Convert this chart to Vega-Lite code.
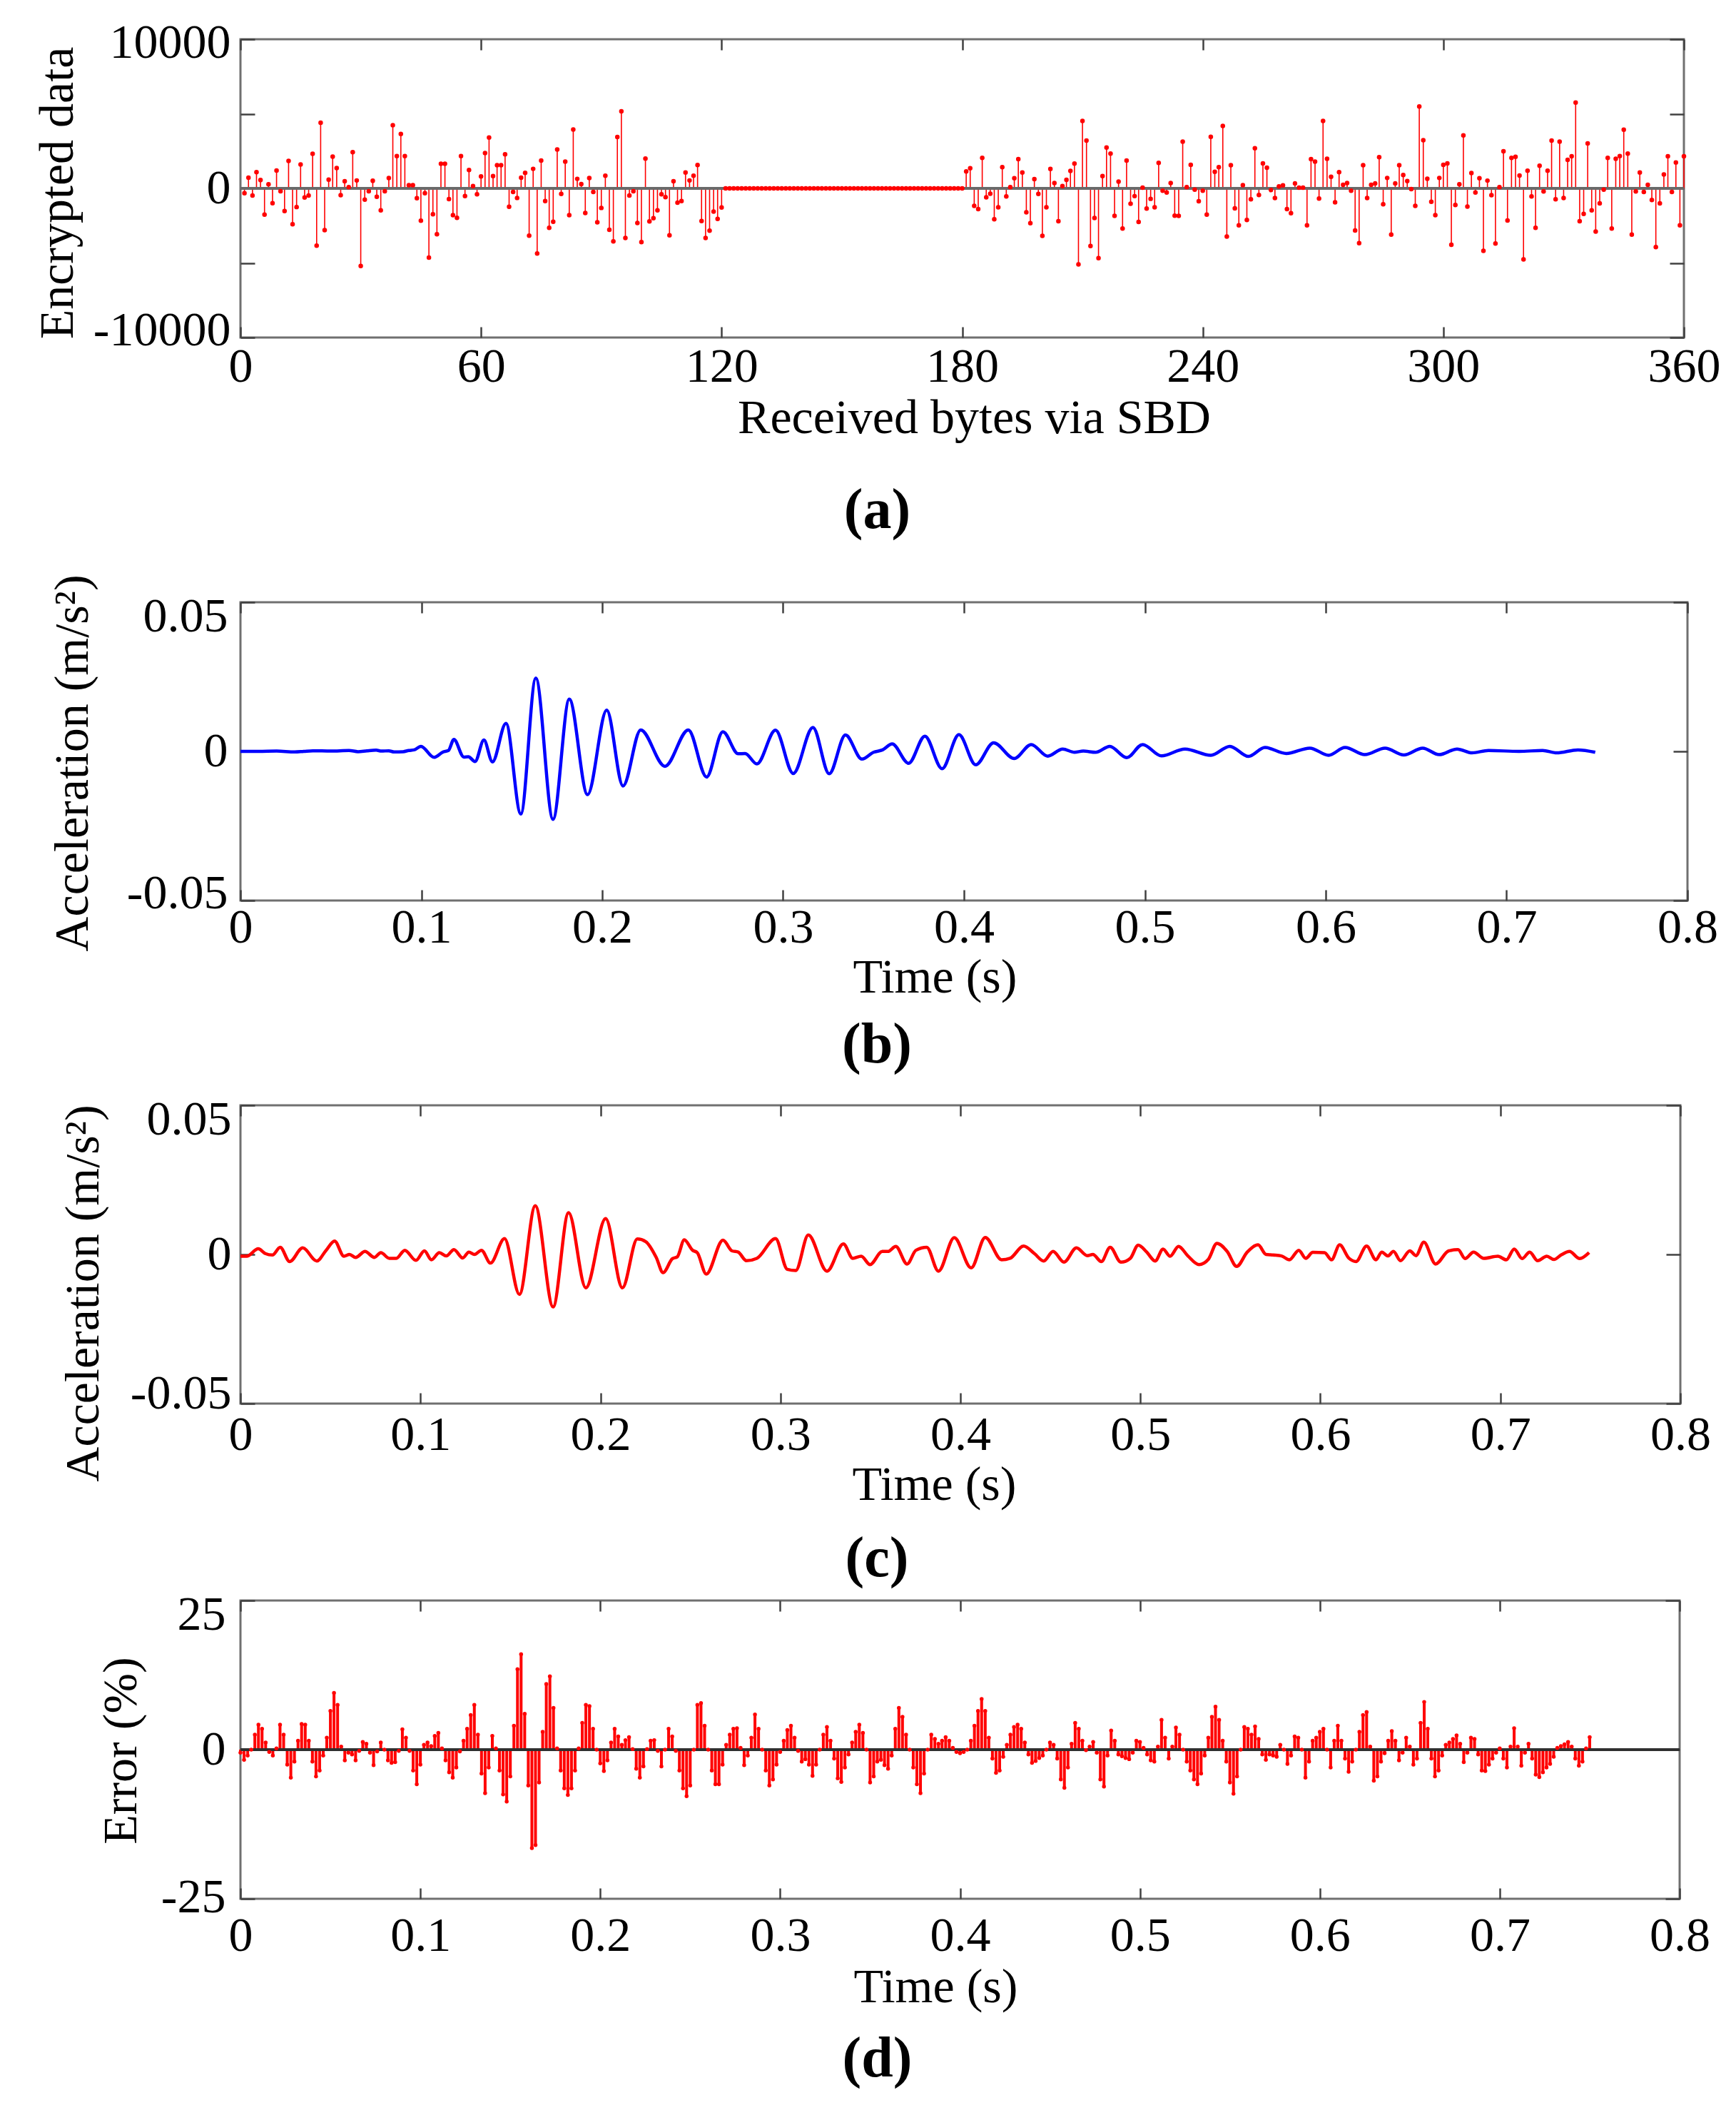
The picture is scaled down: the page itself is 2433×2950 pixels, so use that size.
{
"$schema": "https://vega.github.io/schema/vega-lite/v6.json",
"background": "white",
"padding": {"left": 45, "top": 24, "right": 10, "bottom": 10},
"spacing": 0,
"config": {
  "font": "Liberation Serif",
  "view": {"stroke": "#707070", "strokeWidth": 3},
  "axis": {"minExtent": 0, "grid": false, "domain": false, "ticks": true, "tickColor": "#404040", "tickWidth": 2.5, "labelFontSize": 68, "titleFontSize": 68, "labelColor": "black", "titleColor": "black", "titleFontWeight": "normal", "labelFont": "Liberation Serif", "titleFont": "Liberation Serif", "labelOverlap": false, "labelFlush": false, "labelBound": false, "labelLimit": 1000},
  "title": {"font": "Liberation Serif"}
},
"datasets": {
"A": [{"i":1,"v":-320},{"i":2,"v":720},{"i":3,"v":-480},{"i":4,"v":1090},{"i":5,"v":560},{"i":6,"v":-1760},{"i":7,"v":270},{"i":8,"v":-990},{"i":9,"v":1200},{"i":10,"v":-190},
{"i":11,"v":-1520},{"i":12,"v":1840},{"i":13,"v":-2400},{"i":14,"v":-1250},{"i":15,"v":1600},{"i":16,"v":-610},{"i":17,"v":-480},{"i":18,"v":2320},{"i":19,"v":-3840},{"i":20,"v":4400},
{"i":21,"v":-2800},{"i":22,"v":590},{"i":23,"v":2130},{"i":24,"v":1360},{"i":25,"v":-450},{"i":26,"v":480},{"i":27,"v":80},{"i":28,"v":2430},{"i":29,"v":530},{"i":30,"v":-5200},
{"i":31,"v":-750},{"i":32,"v":-190},{"i":33,"v":510},{"i":34,"v":-560},{"i":35,"v":-1470},{"i":36,"v":-190},{"i":37,"v":690},{"i":38,"v":4240},{"i":39,"v":2160},{"i":40,"v":3650},
{"i":41,"v":2160},{"i":42,"v":210},{"i":43,"v":210},{"i":44,"v":-660},{"i":45,"v":-2160},{"i":46,"v":-320},{"i":47,"v":-4640},{"i":48,"v":-1730},{"i":49,"v":-3070},{"i":50,"v":1650},
{"i":51,"v":1650},{"i":52,"v":-720},{"i":53,"v":-1790},{"i":54,"v":-1970},{"i":55,"v":2160},{"i":56,"v":-510},{"i":57,"v":1230},{"i":58,"v":160},{"i":59,"v":-400},{"i":60,"v":800},
{"i":61,"v":2370},{"i":62,"v":3410},{"i":63,"v":830},{"i":64,"v":1550},{"i":65,"v":1550},{"i":66,"v":2290},{"i":67,"v":-1230},{"i":68,"v":-240},{"i":69,"v":-640},{"i":70,"v":720},
{"i":71,"v":1040},{"i":72,"v":-3170},{"i":73,"v":1310},{"i":74,"v":-4370},{"i":75,"v":1870},{"i":76,"v":-850},{"i":77,"v":-2640},{"i":78,"v":-2240},{"i":79,"v":2610},{"i":80,"v":-370},
{"i":81,"v":1790},{"i":82,"v":-1790},{"i":83,"v":3950},{"i":84,"v":640},{"i":85,"v":290},{"i":86,"v":-1650},{"i":87,"v":690},{"i":88,"v":-240},{"i":89,"v":-2270},{"i":90,"v":-1310},
{"i":91,"v":850},{"i":92,"v":-2770},{"i":93,"v":-3550},{"i":94,"v":3440},{"i":95,"v":5170},{"i":96,"v":-3330},{"i":97,"v":-480},{"i":98,"v":-190},{"i":99,"v":-2320},{"i":100,"v":-3600},
{"i":101,"v":2000},{"i":102,"v":-2210},{"i":103,"v":-2000},{"i":104,"v":-1470},{"i":105,"v":-400},{"i":106,"v":-590},{"i":107,"v":-3150},{"i":108,"v":480},{"i":109,"v":-960},{"i":110,"v":-850},
{"i":111,"v":1070},{"i":112,"v":530},{"i":113,"v":850},{"i":114,"v":1570},{"i":115,"v":-2190},{"i":116,"v":-3330},{"i":117,"v":-2830},{"i":118,"v":-1550},{"i":119,"v":-2050},{"i":120,"v":-1280},
{"i":121,"v":0},{"i":122,"v":0},{"i":123,"v":0},{"i":124,"v":0},{"i":125,"v":0},{"i":126,"v":0},{"i":127,"v":0},{"i":128,"v":0},{"i":129,"v":0},{"i":130,"v":0},
{"i":131,"v":0},{"i":132,"v":0},{"i":133,"v":0},{"i":134,"v":0},{"i":135,"v":0},{"i":136,"v":0},{"i":137,"v":0},{"i":138,"v":0},{"i":139,"v":0},{"i":140,"v":0},
{"i":141,"v":0},{"i":142,"v":0},{"i":143,"v":0},{"i":144,"v":0},{"i":145,"v":0},{"i":146,"v":0},{"i":147,"v":0},{"i":148,"v":0},{"i":149,"v":0},{"i":150,"v":0},
{"i":151,"v":0},{"i":152,"v":0},{"i":153,"v":0},{"i":154,"v":0},{"i":155,"v":0},{"i":156,"v":0},{"i":157,"v":0},{"i":158,"v":0},{"i":159,"v":0},{"i":160,"v":0},
{"i":161,"v":0},{"i":162,"v":0},{"i":163,"v":0},{"i":164,"v":0},{"i":165,"v":0},{"i":166,"v":0},{"i":167,"v":0},{"i":168,"v":0},{"i":169,"v":0},{"i":170,"v":0},
{"i":171,"v":0},{"i":172,"v":0},{"i":173,"v":0},{"i":174,"v":0},{"i":175,"v":0},{"i":176,"v":0},{"i":177,"v":0},{"i":178,"v":0},{"i":179,"v":0},{"i":180,"v":0},
{"i":181,"v":1140},{"i":182,"v":1350},{"i":183,"v":-1170},{"i":184,"v":-1390},{"i":185,"v":2040},{"i":186,"v":-600},{"i":187,"v":-360},{"i":188,"v":-2070},{"i":189,"v":-1270},{"i":190,"v":1420},
{"i":191,"v":-540},{"i":192,"v":80},{"i":193,"v":680},{"i":194,"v":1960},{"i":195,"v":1060},{"i":196,"v":-1600},{"i":197,"v":-2330},{"i":198,"v":620},{"i":199,"v":-370},{"i":200,"v":-3180},
{"i":201,"v":-1270},{"i":202,"v":1300},{"i":203,"v":360},{"i":204,"v":-2200},{"i":205,"v":160},{"i":206,"v":570},{"i":207,"v":1170},{"i":208,"v":1660},{"i":209,"v":-5100},{"i":210,"v":4520},
{"i":211,"v":3210},{"i":212,"v":-3860},{"i":213,"v":-1990},{"i":214,"v":-4680},{"i":215,"v":820},{"i":216,"v":2740},{"i":217,"v":2330},{"i":218,"v":-1840},{"i":219,"v":460},{"i":220,"v":-2690},
{"i":221,"v":1870},{"i":222,"v":-1030},{"i":223,"v":-520},{"i":224,"v":-2250},{"i":225,"v":50},{"i":226,"v":-1350},{"i":227,"v":-700},{"i":228,"v":-1270},{"i":229,"v":1710},{"i":230,"v":-160},
{"i":231,"v":-280},{"i":232,"v":360},{"i":233,"v":-1830},{"i":234,"v":-1840},{"i":235,"v":3130},{"i":236,"v":80},{"i":237,"v":1580},{"i":238,"v":-80},{"i":239,"v":-860},{"i":240,"v":-160},
{"i":241,"v":-1760},{"i":242,"v":3460},{"i":243,"v":1110},{"i":244,"v":1420},{"i":245,"v":4190},{"i":246,"v":-3230},{"i":247,"v":1550},{"i":248,"v":-1340},{"i":249,"v":-2480},{"i":250,"v":210},
{"i":251,"v":-2120},{"i":252,"v":-730},{"i":253,"v":2690},{"i":254,"v":-440},{"i":255,"v":1680},{"i":256,"v":1390},{"i":257,"v":-110},{"i":258,"v":-650},{"i":259,"v":130},{"i":260,"v":200},
{"i":261,"v":-1390},{"i":262,"v":-1660},{"i":263,"v":330},{"i":264,"v":50},{"i":265,"v":50},{"i":266,"v":-2480},{"i":267,"v":1960},{"i":268,"v":1790},{"i":269,"v":-680},{"i":270,"v":4520},
{"i":271,"v":1990},{"i":272,"v":780},{"i":273,"v":-930},{"i":274,"v":1090},{"i":275,"v":240},{"i":276,"v":360},{"i":277,"v":-160},{"i":278,"v":-2820},{"i":279,"v":-3670},{"i":280,"v":1550},
{"i":281,"v":-650},{"i":282,"v":240},{"i":283,"v":330},{"i":284,"v":2090},{"i":285,"v":-1060},{"i":286,"v":700},{"i":287,"v":-3100},{"i":288,"v":330},{"i":289,"v":1550},{"i":290,"v":900},
{"i":291,"v":490},{"i":292,"v":-50},{"i":293,"v":-1170},{"i":294,"v":5490},{"i":295,"v":3230},{"i":296,"v":650},{"i":297,"v":-900},{"i":298,"v":-1790},{"i":299,"v":700},{"i":300,"v":1580},
{"i":301,"v":1680},{"i":302,"v":-3780},{"i":303,"v":-1110},{"i":304,"v":280},{"i":305,"v":3550},{"i":306,"v":-1220},{"i":307,"v":1030},{"i":308,"v":-280},{"i":309,"v":680},{"i":310,"v":-4190},
{"i":311,"v":520},{"i":312,"v":-460},{"i":313,"v":-3700},{"i":314,"v":80},{"i":315,"v":2490},{"i":316,"v":-2150},{"i":317,"v":2040},{"i":318,"v":2120},{"i":319,"v":860},{"i":320,"v":-4760},
{"i":321,"v":1190},{"i":322,"v":-540},{"i":323,"v":-2640},{"i":324,"v":1520},{"i":325,"v":-200},{"i":326,"v":1190},{"i":327,"v":3210},{"i":328,"v":-730},{"i":329,"v":3130},{"i":330,"v":-650},
{"i":331,"v":1910},{"i":332,"v":2150},{"i":333,"v":5750},{"i":334,"v":-2200},{"i":335,"v":-1710},{"i":336,"v":3020},{"i":337,"v":-1470},{"i":338,"v":-2890},{"i":339,"v":-1010},{"i":340,"v":-80},
{"i":341,"v":2040},{"i":342,"v":-2690},{"i":343,"v":1990},{"i":344,"v":2170},{"i":345,"v":3940},{"i":346,"v":2330},{"i":347,"v":-3100},{"i":348,"v":-200},{"i":349,"v":1060},{"i":350,"v":-240},
{"i":351,"v":240},{"i":352,"v":-780},{"i":353,"v":-3940},{"i":354,"v":-1010},{"i":355,"v":930},{"i":356,"v":2150},{"i":357,"v":-240},{"i":358,"v":1740},{"i":359,"v":-2480},{"i":360,"v":2150}],
"B": [{"t":0,"a":0},{"t":0.01,"a":0},{"t":0.02,"a":0.0001},{"t":0.03,"a":-0.0002},{"t":0.035,"a":0},{"t":0.04,"a":0.0002},{"t":0.05,"a":0.0001},{"t":0.06,"a":0.0003},{"t":0.065,"a":-0.0001},{"t":0.07,"a":0.0002},{"t":0.075,"a":0.0004},{"t":0.078,"a":0.0001},{"t":0.082,"a":0.0002},{"t":0.085,"a":-0.0002},{"t":0.09,"a":-0.0001},{"t":0.093,"a":0.0003},{"t":0.096,"a":0.0005},{"t":0.0998,"a":0.0017},{"t":0.107,"a":-0.002},{"t":0.112,"a":-0.0002},{"t":0.115,"a":0.0003},{"t":0.118,"a":0.004},{"t":0.1235,"a":-0.0019},{"t":0.126,"a":-0.0018},{"t":0.1297,"a":-0.0034},{"t":0.1346,"a":0.0038},{"t":0.1393,"a":-0.0035},{"t":0.1468,"a":0.0094},{"t":0.155,"a":-0.021},{"t":0.1633,"a":0.0246},{"t":0.1728,"a":-0.0228},{"t":0.1818,"a":0.0175},{"t":0.1919,"a":-0.0145},{"t":0.2025,"a":0.0138},{"t":0.2115,"a":-0.0116},{"t":0.2213,"a":0.0072},{"t":0.2347,"a":-0.005},{"t":0.2476,"a":0.0072},{"t":0.2577,"a":-0.0086},{"t":0.2667,"a":0.0066},{"t":0.2752,"a":-0.0008},{"t":0.279,"a":-0.0007},{"t":0.2855,"a":-0.0042},{"t":0.2958,"a":0.0071},{"t":0.3056,"a":-0.0074},{"t":0.3165,"a":0.008},{"t":0.3255,"a":-0.0075},{"t":0.3345,"a":0.0055},{"t":0.3436,"a":-0.0026},{"t":0.35,"a":-0.0003},{"t":0.355,"a":0.0005},{"t":0.3603,"a":0.0025},{"t":0.3694,"a":-0.004},{"t":0.3784,"a":0.0051},{"t":0.3879,"a":-0.0058},{"t":0.3972,"a":0.0056},{"t":0.4065,"a":-0.0045},{"t":0.4164,"a":0.0029},{"t":0.4278,"a":-0.0024},{"t":0.4372,"a":0.0023},{"t":0.4463,"a":-0.0016},{"t":0.4546,"a":0.0008},{"t":0.4611,"a":-0.0003},{"t":0.466,"a":0.0001},{"t":0.4728,"a":-0.0003},{"t":0.4806,"a":0.0017},{"t":0.49,"a":-0.0021},{"t":0.4988,"a":0.0023},{"t":0.5092,"a":-0.0015},{"t":0.5222,"a":0.0008},{"t":0.5365,"a":-0.0013},{"t":0.547,"a":0.0017},{"t":0.5573,"a":-0.0017},{"t":0.5664,"a":0.0013},{"t":0.5782,"a":-0.0007},{"t":0.5912,"a":0.0011},{"t":0.6016,"a":-0.0013},{"t":0.6107,"a":0.0013},{"t":0.6216,"a":-0.0011},{"t":0.6328,"a":0.0011},{"t":0.6432,"a":-0.0012},{"t":0.6536,"a":0.0011},{"t":0.6627,"a":-0.0011},{"t":0.6726,"a":0.0008},{"t":0.6809,"a":-0.0005},{"t":0.69,"a":0.0003},{"t":0.7069,"a":0},{"t":0.7199,"a":0.0003},{"t":0.7277,"a":-0.0005},{"t":0.7394,"a":0.0005},{"t":0.749,"a":-0.0003}],
"C": [{"t":0,"a":-0.0006},{"t":0.0034,"a":-0.0006},{"t":0.0099,"a":0.0019},{"t":0.0138,"a":0.0003},{"t":0.0177,"a":-0.0002},{"t":0.0221,"a":0.0024},{"t":0.0273,"a":-0.0024},{"t":0.0346,"a":0.0022},{"t":0.0424,"a":-0.0022},{"t":0.0476,"a":0.0014},{"t":0.0523,"a":0.0045},{"t":0.0575,"a":-0.0006},{"t":0.0606,"a":0},{"t":0.064,"a":-0.001},{"t":0.0692,"a":0.001},{"t":0.0744,"a":-0.001},{"t":0.078,"a":0.0006},{"t":0.0827,"a":-0.0013},{"t":0.0866,"a":-0.0013},{"t":0.0913,"a":0.0014},{"t":0.0975,"a":-0.002},{"t":0.1022,"a":0.0012},{"t":0.1061,"a":-0.0018},{"t":0.1105,"a":0.0006},{"t":0.1144,"a":-0.0005},{"t":0.1186,"a":0.0016},{"t":0.1235,"a":-0.0012},{"t":0.1269,"a":0.0008},{"t":0.13,"a":0},{"t":0.1339,"a":0.0014},{"t":0.1389,"a":-0.0029},{"t":0.1467,"a":0.0053},{"t":0.155,"a":-0.0134},{"t":0.1638,"a":0.0163},{"t":0.1737,"a":-0.0176},{"t":0.1823,"a":0.014},{"t":0.1919,"a":-0.0112},{"t":0.2029,"a":0.012},{"t":0.2122,"a":-0.0112},{"t":0.2205,"a":0.0052},{"t":0.2252,"a":0.0043},{"t":0.231,"a":-0.001},{"t":0.2348,"a":-0.0061},{"t":0.24,"a":-0.0014},{"t":0.2427,"a":-0.0008},{"t":0.2466,"a":0.0049},{"t":0.2512,"a":0.0014},{"t":0.2538,"a":0.0006},{"t":0.2588,"a":-0.0066},{"t":0.2681,"a":0.0048},{"t":0.2731,"a":0.0012},{"t":0.2765,"a":0.0008},{"t":0.2811,"a":-0.0021},{"t":0.2869,"a":-0.0013},{"t":0.2973,"a":0.0053},{"t":0.3038,"a":-0.005},{"t":0.3085,"a":-0.0054},{"t":0.3155,"a":0.0065},{"t":0.3259,"a":-0.0056},{"t":0.335,"a":0.0035},{"t":0.3402,"a":-0.0013},{"t":0.3449,"a":-0.0006},{"t":0.3498,"a":-0.0034},{"t":0.3566,"a":0.001},{"t":0.3597,"a":0.001},{"t":0.3641,"a":0.0027},{"t":0.3704,"a":-0.0032},{"t":0.3753,"a":0.0014},{"t":0.3813,"a":0.0024},{"t":0.3878,"a":-0.0056},{"t":0.3966,"a":0.0056},{"t":0.406,"a":-0.0045},{"t":0.4138,"a":0.0057},{"t":0.4229,"a":-0.0018},{"t":0.4276,"a":-0.0013},{"t":0.4351,"a":0.0028},{"t":0.4411,"a":0.0003},{"t":0.4463,"a":-0.0022},{"t":0.4515,"a":0.001},{"t":0.4575,"a":-0.0026},{"t":0.4645,"a":0.0022},{"t":0.4705,"a":-0.0004},{"t":0.4736,"a":0},{"t":0.4783,"a":-0.0024},{"t":0.4832,"a":0.0024},{"t":0.4892,"a":-0.0026},{"t":0.4944,"a":-0.0013},{"t":0.4988,"a":0.0031},{"t":0.5035,"a":0.0008},{"t":0.5082,"a":-0.0022},{"t":0.5126,"a":0.0018},{"t":0.5165,"a":-0.0006},{"t":0.5212,"a":0.0027},{"t":0.5264,"a":-0.0005},{"t":0.5326,"a":-0.0034},{"t":0.5378,"a":-0.0016},{"t":0.5425,"a":0.0037},{"t":0.5482,"a":0.001},{"t":0.5535,"a":-0.004},{"t":0.5594,"a":0.0008},{"t":0.5654,"a":0.0032},{"t":0.5698,"a":0},{"t":0.5737,"a":-0.0002},{"t":0.5784,"a":-0.0005},{"t":0.5828,"a":-0.0018},{"t":0.588,"a":0.0014},{"t":0.5919,"a":-0.0013},{"t":0.5958,"a":0.0007},{"t":0.6023,"a":0.0006},{"t":0.6062,"a":-0.0018},{"t":0.6107,"a":0.0032},{"t":0.6159,"a":-0.0013},{"t":0.6198,"a":-0.0024},{"t":0.6257,"a":0.0028},{"t":0.6309,"a":-0.0018},{"t":0.6341,"a":0.0008},{"t":0.6375,"a":-0.0005},{"t":0.6406,"a":0.001},{"t":0.6445,"a":-0.0021},{"t":0.6497,"a":0.0012},{"t":0.6531,"a":-0.0004},{"t":0.6575,"a":0.0041},{"t":0.664,"a":-0.0032},{"t":0.6713,"a":0.0012},{"t":0.6765,"a":0.0016},{"t":0.6804,"a":-0.0014},{"t":0.6851,"a":0.0008},{"t":0.6908,"a":-0.0013},{"t":0.6986,"a":-0.0006},{"t":0.7033,"a":-0.0018},{"t":0.7077,"a":0.0018},{"t":0.7121,"a":-0.0014},{"t":0.7163,"a":0.0008},{"t":0.7207,"a":-0.0021},{"t":0.7258,"a":-0.0006},{"t":0.7298,"a":-0.0017},{"t":0.7337,"a":-0.0002},{"t":0.7384,"a":0.001},{"t":0.7441,"a":-0.0014},{"t":0.7493,"a":0.0006}],
"D": [{"t":0,"e":-0.5},{"t":0.002,"e":-1.7},{"t":0.004,"e":-1},{"t":0.006,"e":0},{"t":0.008,"e":2.5},{"t":0.01,"e":4.2},{"t":0.012,"e":3.5},{"t":0.014,"e":1.2},{"t":0.016,"e":-0.4},{"t":0.018,"e":-1},
{"t":0.02,"e":0.2},{"t":0.022,"e":4.2},{"t":0.024,"e":2.5},{"t":0.026,"e":-2.5},{"t":0.028,"e":-4.7},{"t":0.03,"e":-2},{"t":0.032,"e":1.5},{"t":0.034,"e":4.3},{"t":0.036,"e":4.2},{"t":0.038,"e":1.5},
{"t":0.04,"e":-2},{"t":0.042,"e":-4.5},{"t":0.044,"e":-3.5},{"t":0.046,"e":-1},{"t":0.048,"e":2},{"t":0.05,"e":6.5},{"t":0.052,"e":9.5},{"t":0.054,"e":7.5},{"t":0.056,"e":0.5},{"t":0.058,"e":-1.8},
{"t":0.06,"e":-0.5},{"t":0.062,"e":-0.8},{"t":0.064,"e":-1.8},{"t":0.066,"e":-0.2},{"t":0.068,"e":1.3},{"t":0.07,"e":1},{"t":0.072,"e":-0.5},{"t":0.074,"e":-2.6},{"t":0.076,"e":-0.3},{"t":0.078,"e":1.2},
{"t":0.08,"e":0},{"t":0.082,"e":-1.8},{"t":0.084,"e":-2.2},{"t":0.086,"e":-2.1},{"t":0.088,"e":-0.2},{"t":0.09,"e":3.4},{"t":0.092,"e":2},{"t":0.094,"e":-0.2},{"t":0.096,"e":-3.5},{"t":0.098,"e":-5.8},
{"t":0.1,"e":-2.5},{"t":0.102,"e":0.8},{"t":0.104,"e":1.2},{"t":0.106,"e":0.6},{"t":0.108,"e":2.3},{"t":0.11,"e":2.8},{"t":0.112,"e":0.2},{"t":0.114,"e":-1.8},{"t":0.116,"e":-3.8},{"t":0.118,"e":-4.7},
{"t":0.12,"e":-3},{"t":0.122,"e":-0.3},{"t":0.124,"e":1.5},{"t":0.126,"e":3.5},{"t":0.128,"e":5.8},{"t":0.13,"e":7.5},{"t":0.132,"e":2.5},{"t":0.134,"e":-4},{"t":0.136,"e":-7.3},{"t":0.138,"e":-3},
{"t":0.14,"e":2.3},{"t":0.142,"e":0.2},{"t":0.144,"e":-3.5},{"t":0.146,"e":-7.5},{"t":0.148,"e":-8.7},{"t":0.15,"e":-4.5},{"t":0.152,"e":4},{"t":0.154,"e":13.5},{"t":0.156,"e":16},{"t":0.158,"e":6},
{"t":0.16,"e":-6},{"t":0.162,"e":-16.5},{"t":0.164,"e":-16},{"t":0.166,"e":-5.5},{"t":0.168,"e":3},{"t":0.17,"e":11},{"t":0.172,"e":12.3},{"t":0.174,"e":7},{"t":0.176,"e":0.2},{"t":0.178,"e":-3.5},
{"t":0.18,"e":-6.5},{"t":0.182,"e":-7.6},{"t":0.184,"e":-6.5},{"t":0.186,"e":-3.5},{"t":0.188,"e":0.2},{"t":0.19,"e":4.5},{"t":0.192,"e":7.5},{"t":0.194,"e":7.3},{"t":0.196,"e":3.5},{"t":0.198,"e":0},
{"t":0.2,"e":-2.3},{"t":0.202,"e":-3.6},{"t":0.204,"e":-1.8},{"t":0.206,"e":1.2},{"t":0.208,"e":3.5},{"t":0.21,"e":2.2},{"t":0.212,"e":0.8},{"t":0.214,"e":1.6},{"t":0.216,"e":2.1},{"t":0.218,"e":0.1},
{"t":0.22,"e":-3.2},{"t":0.222,"e":-4.7},{"t":0.224,"e":-2.8},{"t":0.226,"e":0.1},{"t":0.228,"e":1.5},{"t":0.23,"e":1.6},{"t":0.232,"e":-0.2},{"t":0.234,"e":-2.8},{"t":0.236,"e":0},{"t":0.238,"e":3.5},
{"t":0.24,"e":2.2},{"t":0.242,"e":-0.2},{"t":0.244,"e":-3.5},{"t":0.246,"e":-6.5},{"t":0.248,"e":-7.8},{"t":0.25,"e":-6},{"t":0.252,"e":0},{"t":0.254,"e":7.5},{"t":0.256,"e":7.8},{"t":0.258,"e":4},
{"t":0.26,"e":0},{"t":0.262,"e":-3.5},{"t":0.264,"e":-5.8},{"t":0.266,"e":-5.8},{"t":0.268,"e":-2.5},{"t":0.27,"e":0.8},{"t":0.272,"e":2.5},{"t":0.274,"e":3.5},{"t":0.276,"e":3.6},{"t":0.278,"e":0.3},
{"t":0.28,"e":-2.6},{"t":0.282,"e":-1},{"t":0.284,"e":2},{"t":0.286,"e":5.9},{"t":0.288,"e":3.5},{"t":0.29,"e":0},{"t":0.292,"e":-3.5},{"t":0.294,"e":-6},{"t":0.296,"e":-5},{"t":0.298,"e":-2.5},
{"t":0.3,"e":-0.4},{"t":0.302,"e":1.5},{"t":0.304,"e":3.3},{"t":0.306,"e":4},{"t":0.308,"e":2},{"t":0.31,"e":-0.2},{"t":0.312,"e":-2},{"t":0.314,"e":-1.6},{"t":0.316,"e":-2.5},{"t":0.318,"e":-4.4},
{"t":0.32,"e":-2.5},{"t":0.322,"e":0},{"t":0.324,"e":2.5},{"t":0.326,"e":3.8},{"t":0.328,"e":1.5},{"t":0.33,"e":-1.5},{"t":0.332,"e":-4.8},{"t":0.334,"e":-5.4},{"t":0.336,"e":-3},{"t":0.338,"e":-0.8},
{"t":0.34,"e":1.2},{"t":0.342,"e":3},{"t":0.344,"e":4.2},{"t":0.346,"e":2.8},{"t":0.348,"e":0},{"t":0.35,"e":-5.5},{"t":0.352,"e":-4.5},{"t":0.354,"e":-2},{"t":0.356,"e":-1.7},{"t":0.358,"e":-2.6},
{"t":0.36,"e":-3.2},{"t":0.362,"e":-1},{"t":0.364,"e":3.5},{"t":0.366,"e":7},{"t":0.368,"e":5.5},{"t":0.37,"e":2.5},{"t":0.372,"e":0},{"t":0.374,"e":-3},{"t":0.376,"e":-5.8},{"t":0.378,"e":-7.3},
{"t":0.38,"e":-4},{"t":0.382,"e":0},{"t":0.384,"e":2.5},{"t":0.386,"e":1.8},{"t":0.388,"e":1},{"t":0.39,"e":1.5},{"t":0.392,"e":2.1},{"t":0.394,"e":1.5},{"t":0.396,"e":0.3},{"t":0.398,"e":-0.4},
{"t":0.4,"e":-0.6},{"t":0.402,"e":-0.4},{"t":0.404,"e":0},{"t":0.406,"e":1.5},{"t":0.408,"e":4},{"t":0.41,"e":6.5},{"t":0.412,"e":8.5},{"t":0.414,"e":6.5},{"t":0.416,"e":2},{"t":0.418,"e":-1.5},
{"t":0.42,"e":-3.9},{"t":0.422,"e":-3.5},{"t":0.424,"e":-1.2},{"t":0.426,"e":0.8},{"t":0.428,"e":2.5},{"t":0.43,"e":3.8},{"t":0.432,"e":4.2},{"t":0.434,"e":3.5},{"t":0.436,"e":1.2},{"t":0.438,"e":-0.8},
{"t":0.44,"e":-2.2},{"t":0.442,"e":-1.9},{"t":0.444,"e":-1.4},{"t":0.446,"e":-1},{"t":0.448,"e":0},{"t":0.45,"e":1.2},{"t":0.452,"e":0.8},{"t":0.454,"e":-1.5},{"t":0.456,"e":-5},{"t":0.458,"e":-6.4},
{"t":0.46,"e":-3},{"t":0.462,"e":1},{"t":0.464,"e":4.5},{"t":0.466,"e":3.5},{"t":0.468,"e":1.5},{"t":0.47,"e":-0.1},{"t":0.472,"e":0.5},{"t":0.474,"e":1.3},{"t":0.476,"e":-0.5},{"t":0.478,"e":-5},
{"t":0.48,"e":-6.2},{"t":0.482,"e":-1},{"t":0.484,"e":3.2},{"t":0.486,"e":1.5},{"t":0.488,"e":-0.8},{"t":0.49,"e":-1.1},{"t":0.492,"e":-1.4},{"t":0.494,"e":-1.6},{"t":0.496,"e":-0.5},{"t":0.498,"e":1.5},
{"t":0.5,"e":1.3},{"t":0.502,"e":0.3},{"t":0.504,"e":-0.8},{"t":0.506,"e":-1.8},{"t":0.508,"e":-2},{"t":0.51,"e":0.5},{"t":0.512,"e":5},{"t":0.514,"e":2},{"t":0.516,"e":-1.5},{"t":0.518,"e":0.5},
{"t":0.52,"e":3.7},{"t":0.522,"e":2.5},{"t":0.524,"e":0},{"t":0.526,"e":-2},{"t":0.528,"e":-3.5},{"t":0.53,"e":-5},{"t":0.532,"e":-5.8},{"t":0.534,"e":-4},{"t":0.536,"e":-1},{"t":0.538,"e":2},
{"t":0.54,"e":5.5},{"t":0.542,"e":7.2},{"t":0.544,"e":5},{"t":0.546,"e":1.5},{"t":0.548,"e":-2},{"t":0.55,"e":-5.5},{"t":0.552,"e":-7.4},{"t":0.554,"e":-4.5},{"t":0.556,"e":0},{"t":0.558,"e":3.8},
{"t":0.56,"e":3.5},{"t":0.562,"e":2.5},{"t":0.564,"e":3.9},{"t":0.566,"e":1.8},{"t":0.568,"e":-0.8},{"t":0.57,"e":-1.7},{"t":0.572,"e":-0.8},{"t":0.574,"e":-1},{"t":0.576,"e":-1.2},{"t":0.578,"e":0.8},
{"t":0.58,"e":0},{"t":0.582,"e":-2.4},{"t":0.584,"e":-1},{"t":0.586,"e":2.2},{"t":0.588,"e":2},{"t":0.59,"e":0},{"t":0.592,"e":-4.7},{"t":0.594,"e":-2},{"t":0.596,"e":1.5},{"t":0.598,"e":2},
{"t":0.6,"e":3},{"t":0.602,"e":3.5},{"t":0.604,"e":0},{"t":0.606,"e":-3},{"t":0.608,"e":1.5},{"t":0.61,"e":4},{"t":0.612,"e":1.5},{"t":0.614,"e":-1.5},{"t":0.616,"e":-3.7},{"t":0.618,"e":-2},
{"t":0.62,"e":0},{"t":0.622,"e":3},{"t":0.624,"e":5.8},{"t":0.626,"e":6.3},{"t":0.628,"e":0.5},{"t":0.63,"e":-5.2},{"t":0.632,"e":-4.5},{"t":0.634,"e":-2},{"t":0.636,"e":-0.6},{"t":0.638,"e":1.5},
{"t":0.64,"e":3.1},{"t":0.642,"e":1.5},{"t":0.644,"e":-1.8},{"t":0.646,"e":-0.5},{"t":0.648,"e":2},{"t":0.65,"e":0.5},{"t":0.652,"e":-2.5},{"t":0.654,"e":-1.5},{"t":0.656,"e":4.5},{"t":0.658,"e":8},
{"t":0.66,"e":3.5},{"t":0.662,"e":-1.5},{"t":0.664,"e":-4.5},{"t":0.666,"e":-3.5},{"t":0.668,"e":-1},{"t":0.67,"e":0.8},{"t":0.672,"e":1.2},{"t":0.674,"e":1.8},{"t":0.676,"e":2.4},{"t":0.678,"e":1},
{"t":0.68,"e":-2.1},{"t":0.682,"e":-0.5},{"t":0.684,"e":2},{"t":0.686,"e":1.8},{"t":0.688,"e":-0.8},{"t":0.69,"e":-3.5},{"t":0.692,"e":-3.6},{"t":0.694,"e":-2.5},{"t":0.696,"e":-1.5},{"t":0.698,"e":-0.5},
{"t":0.7,"e":0.2},{"t":0.702,"e":-1.5},{"t":0.704,"e":-3},{"t":0.706,"e":0.5},{"t":0.708,"e":3.6},{"t":0.71,"e":0.5},{"t":0.712,"e":-2.7},{"t":0.714,"e":-0.5},{"t":0.716,"e":1},{"t":0.718,"e":-1.5},
{"t":0.72,"e":-4.2},{"t":0.722,"e":-4.6},{"t":0.724,"e":-3.8},{"t":0.726,"e":-3},{"t":0.728,"e":-2.4},{"t":0.73,"e":-1.2},{"t":0.732,"e":0.3},{"t":0.734,"e":0.6},{"t":0.736,"e":0.9},{"t":0.738,"e":1.3},
{"t":0.74,"e":0.5},{"t":0.742,"e":-1.5},{"t":0.744,"e":-2.7},{"t":0.746,"e":-2},{"t":0.748,"e":0.2},{"t":0.75,"e":2.1}]
},
"vconcat": [
{
  "width": 2023, "height": 418,
  "data": {"name": "A"},
  "title": {"text": "(a)", "orient": "bottom", "frame": "group", "anchor": "middle", "dx": -119, "offset": 120, "baseline": "alphabetic", "fontSize": 80, "fontWeight": "bold", "color": "black"},
  "layer": [
    {"mark": {"type": "rule", "color": "#ff0000", "strokeWidth": 1.6},
     "encoding": {
       "x": {"field": "i", "type": "quantitative", "scale": {"domain": [0, 360], "nice": false},
             "axis": {"orient": "bottom", "values": [0, 60, 120, 180, 240, 300, 360], "tickSize": -15, "labelPadding": 76, "labelBaseline": "alphabetic", "title": "Received bytes via SBD", "titleX": 1028, "titleY": 133, "titleBaseline": "alphabetic", "titleAlign": "center"}},
       "y": {"field": "v", "type": "quantitative", "scale": {"domain": [-10000, 10000], "nice": false},
             "axis": {"orient": "left", "values": [-10000, -5000, 0, 5000, 10000], "labelExpr": "datum.value == 10000 ? '10000' : datum.value == 0 ? '0' : datum.value == -10000 ? '-10000' : ''", "tickSize": -20, "labelPadding": 34, "labelOffset": {"condition": [{"test": "datum.value > 6000", "value": 5}, {"test": "datum.value < -6000", "value": -10}], "value": 0}, "title": "Encrypted data", "titleX": -256, "titleY": 215, "titleBaseline": "middle", "titleAlign": "center"}},
       "y2": {"datum": 0}
     }},
    {"mark": {"type": "rule", "color": "#6a6a6a", "strokeWidth": 2.5},
     "encoding": {"y": {"datum": 0, "type": "quantitative", "scale": {"domain": [-10000, 10000], "nice": false}, "axis": null}}},
    {"mark": {"type": "point", "shape": "circle", "filled": true, "color": "#ff0000", "size": 42, "opacity": 1},
     "encoding": {
       "x": {"field": "i", "type": "quantitative", "scale": {"domain": [0, 360], "nice": false}, "axis": null},
       "y": {"field": "v", "type": "quantitative", "scale": {"domain": [-10000, 10000], "nice": false}, "axis": null}
     }},
    {"mark": {"type": "point", "opacity": 0},
     "encoding": {
       "x": {"field": "i", "type": "quantitative", "scale": {"domain": [0, 360], "nice": false}, "axis": {"orient": "top", "values": [0, 60, 120, 180, 240, 300, 360], "labels": false, "tickSize": -15, "title": null}},
       "y": {"field": "v", "type": "quantitative", "scale": {"domain": [-10000, 10000], "nice": false}, "axis": {"orient": "right", "values": [-10000, -5000, 0, 5000, 10000], "labels": false, "tickSize": -20, "title": null}}
     }}
  ],
  "resolve": {"axis": {"x": "independent", "y": "independent"}}
},
{
  "width": 2028, "height": 418,
  "data": {"name": "B"},
  "title": {"text": "(b)", "orient": "bottom", "frame": "group", "anchor": "middle", "dx": -122, "offset": 85, "baseline": "alphabetic", "fontSize": 80, "fontWeight": "bold", "color": "black"},
  "layer": [
    {"mark": {"type": "line", "color": "#0000ff", "strokeWidth": 4.5, "interpolate": "monotone"},
     "encoding": {
       "x": {"field": "t", "type": "quantitative", "scale": {"domain": [0, 0.8], "nice": false},
             "axis": {"orient": "bottom", "values": [0, 0.1, 0.2, 0.3, 0.4, 0.5, 0.6, 0.7, 0.8], "labelExpr": "format(datum.value, '.1~f')", "tickSize": -15, "labelPadding": 73, "labelBaseline": "alphabetic", "title": "Time (s)", "titleX": 973, "titleY": 128, "titleBaseline": "alphabetic", "titleAlign": "center"}},
       "y": {"field": "a", "type": "quantitative", "scale": {"domain": [-0.05, 0.05], "nice": false},
             "axis": {"orient": "left", "values": [-0.05, 0, 0.05], "labelExpr": "datum.value > 0.01 ? '0.05' : datum.value < -0.01 ? '-0.05' : '0'", "tickSize": -20, "labelPadding": 38, "labelOffset": {"condition": [{"test": "datum.value > 0.01", "value": 20}, {"test": "datum.value < -0.01", "value": -10}], "value": 0}, "title": "Acceleration (m/s²)", "titleX": -235, "titleY": 225, "titleBaseline": "middle", "titleAlign": "center"}}
     }},
    {"mark": {"type": "point", "opacity": 0},
     "encoding": {
       "x": {"field": "t", "type": "quantitative", "scale": {"domain": [0, 0.8], "nice": false}, "axis": {"orient": "top", "values": [0, 0.1, 0.2, 0.3, 0.4, 0.5, 0.6, 0.7, 0.8], "labels": false, "tickSize": -15, "title": " ", "titleFontSize": 10, "titleY": -74, "titleBaseline": "bottom"}},
       "y": {"field": "a", "type": "quantitative", "scale": {"domain": [-0.05, 0.05], "nice": false}, "axis": {"orient": "right", "values": [-0.05, 0, 0.05], "labels": false, "tickSize": -20, "title": null}}
     }}
  ],
  "resolve": {"axis": {"x": "independent", "y": "independent"}}
},
{
  "width": 2018, "height": 418,
  "data": {"name": "C"},
  "title": {"text": "(c)", "orient": "bottom", "frame": "group", "anchor": "middle", "dx": -117, "offset": 94, "baseline": "alphabetic", "fontSize": 80, "fontWeight": "bold", "color": "black"},
  "layer": [
    {"mark": {"type": "line", "color": "#ff0000", "strokeWidth": 4.5, "interpolate": "monotone"},
     "encoding": {
       "x": {"field": "t", "type": "quantitative", "scale": {"domain": [0, 0.8], "nice": false},
             "axis": {"orient": "bottom", "values": [0, 0.1, 0.2, 0.3, 0.4, 0.5, 0.6, 0.7, 0.8], "labelExpr": "format(datum.value, '.1~f')", "tickSize": -15, "labelPadding": 79, "labelBaseline": "alphabetic", "title": "Time (s)", "titleX": 972, "titleY": 134, "titleBaseline": "alphabetic", "titleAlign": "center"}},
       "y": {"field": "a", "type": "quantitative", "scale": {"domain": [-0.05, 0.05], "nice": false},
             "axis": {"orient": "left", "values": [-0.05, 0, 0.05], "labelExpr": "datum.value > 0.01 ? '0.05' : datum.value < -0.01 ? '-0.05' : '0'", "tickSize": -20, "labelPadding": 33, "labelOffset": {"condition": [{"test": "datum.value > 0.01", "value": 20}, {"test": "datum.value < -0.01", "value": -14}], "value": 0}, "title": "Acceleration (m/s²)", "titleX": -220, "titleY": 263, "titleBaseline": "middle", "titleAlign": "center"}}
     }},
    {"mark": {"type": "point", "opacity": 0},
     "encoding": {
       "x": {"field": "t", "type": "quantitative", "scale": {"domain": [0, 0.8], "nice": false}, "axis": {"orient": "top", "values": [0, 0.1, 0.2, 0.3, 0.4, 0.5, 0.6, 0.7, 0.8], "labels": false, "tickSize": -15, "title": " ", "titleFontSize": 10, "titleY": -30.5, "titleBaseline": "bottom"}},
       "y": {"field": "a", "type": "quantitative", "scale": {"domain": [-0.05, 0.05], "nice": false}, "axis": {"orient": "right", "values": [-0.05, 0, 0.05], "labels": false, "tickSize": -20, "title": null}}
     }}
  ],
  "resolve": {"axis": {"x": "independent", "y": "independent"}}
},
{
  "width": 2017, "height": 418,
  "data": {"name": "D"},
  "title": {"text": "(d)", "orient": "bottom", "frame": "group", "anchor": "middle", "dx": -116, "offset": 91, "baseline": "alphabetic", "fontSize": 80, "fontWeight": "bold", "color": "black"},
  "layer": [
    {"mark": {"type": "rule", "color": "#ff0000", "strokeWidth": 4},
     "encoding": {
       "x": {"field": "t", "type": "quantitative", "scale": {"domain": [0, 0.8], "nice": false},
             "axis": {"orient": "bottom", "values": [0, 0.1, 0.2, 0.3, 0.4, 0.5, 0.6, 0.7, 0.8], "labelExpr": "format(datum.value, '.1~f')", "tickSize": -15, "labelPadding": 87, "labelBaseline": "alphabetic", "title": "Time (s)", "titleX": 974, "titleY": 144, "titleBaseline": "alphabetic", "titleAlign": "center"}},
       "y": {"field": "e", "type": "quantitative", "scale": {"domain": [-25, 25], "nice": false},
             "axis": {"orient": "left", "values": [-25, 0, 25], "labelExpr": "datum.value > 1 ? '25' : datum.value < -1 ? '-25' : '0'", "tickSize": -20, "labelPadding": 41, "labelOffset": {"condition": [{"test": "datum.value > 1", "value": 20}, {"test": "datum.value < -1", "value": -2}], "value": 0}, "title": "Error (%)", "titleX": -167, "titleY": 210, "titleBaseline": "middle", "titleAlign": "center"}},
       "y2": {"datum": 0}
     }},
    {"mark": {"type": "rule", "color": "#303030", "strokeWidth": 3},
     "encoding": {"y": {"datum": 0, "type": "quantitative", "scale": {"domain": [-25, 25], "nice": false}, "axis": null}}},
    {"mark": {"type": "point", "shape": "circle", "filled": true, "color": "#ff0000", "size": 30, "opacity": 1},
     "encoding": {
       "x": {"field": "t", "type": "quantitative", "scale": {"domain": [0, 0.8], "nice": false}, "axis": null},
       "y": {"field": "e", "type": "quantitative", "scale": {"domain": [-25, 25], "nice": false}, "axis": null}
     }},
    {"mark": {"type": "point", "opacity": 0},
     "encoding": {
       "x": {"field": "t", "type": "quantitative", "scale": {"domain": [0, 0.8], "nice": false}, "axis": {"orient": "top", "values": [0, 0.1, 0.2, 0.3, 0.4, 0.5, 0.6, 0.7, 0.8], "labels": false, "tickSize": -15, "title": null}},
       "y": {"field": "e", "type": "quantitative", "scale": {"domain": [-25, 25], "nice": false}, "axis": {"orient": "right", "values": [-25, 0, 25], "labels": false, "tickSize": -20, "title": null}}
     }}
  ],
  "resolve": {"axis": {"x": "independent", "y": "independent"}}
}
]
}
